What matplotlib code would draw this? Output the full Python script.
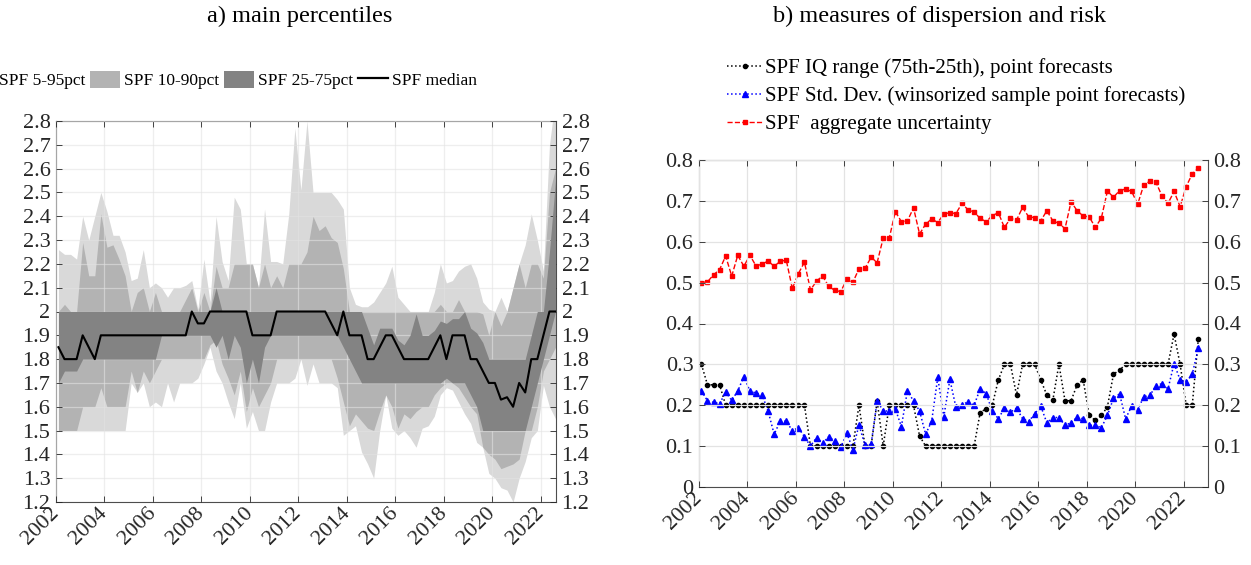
import numpy as np
import matplotlib
matplotlib.use("Agg")
import matplotlib.pyplot as plt
from matplotlib.patches import Patch
from matplotlib.lines import Line2D

plt.rcParams['font.family'] = ['Liberation Serif', 'DejaVu Serif']

# ---------------- data ----------------
quarter_index = np.arange(83)
first_quarter = 2002.1

# panel a: SPF percentiles
p95 = [2.26, 2.24, 2.24, 2.22, 2.40, 2.30, 2.40, 2.50, 2.42, 2.32,
       2.32, 2.25, 2.13, 2.14, 2.26, 2.10, 2.12, 2.10, 2.06, 2.10,
       2.10, 2.11, 2.13, 2.01, 2.22, 2.04, 2.40, 2.21, 2.13, 2.48,
       2.43, 2.20, 2.20, 2.10, 2.43, 2.21, 2.21, 2.20, 2.41, 2.77,
       2.51, 2.80, 2.50, 2.50, 2.50, 2.50, 2.47, 2.43, 2.10, 2.03,
       2.02, 2.02, 2.04, 2.08, 2.12, 2.19, 2.06, 2.03, 2.00, 2.00,
       2.00, 2.00, 2.08, 2.20, 2.12, 2.13, 2.17, 2.19, 2.20, 2.14,
       2.04, 2.01, 2.00, 2.06, 2.00, 2.10, 2.20, 2.28, 2.41, 2.30,
       2.17, 2.70, 2.90]
p90 = [2.00, 2.03, 2.00, 2.00, 2.29, 2.15, 2.15, 2.41, 2.27, 2.28,
       2.22, 2.15, 2.00, 2.08, 2.10, 2.00, 2.08, 2.00, 2.00, 2.00,
       2.00, 2.05, 2.10, 2.00, 2.08, 2.00, 2.19, 2.10, 2.10, 2.20,
       2.20, 2.20, 2.20, 2.10, 2.20, 2.10, 2.15, 2.10, 2.20, 2.20,
       2.20, 2.25, 2.40, 2.34, 2.36, 2.31, 2.29, 2.18, 2.00, 2.00,
       2.00, 2.00, 2.00, 2.00, 2.00, 2.00, 2.00, 2.00, 2.00, 2.00,
       2.00, 2.00, 2.00, 2.03, 2.00, 2.00, 2.05, 2.00, 2.00, 2.00,
       1.99, 1.90, 2.00, 1.94, 2.00, 2.10, 2.20, 2.10, 2.20, 2.20,
       2.14, 2.50, 2.60]
p75 = [2.00, 2.00, 2.00, 2.00, 2.00, 2.00, 2.00, 2.00, 2.00, 2.00,
       2.00, 2.00, 2.00, 2.00, 2.00, 2.00, 2.00, 2.00, 2.00, 2.00,
       2.00, 2.00, 2.00, 2.00, 2.00, 2.00, 2.10, 2.00, 2.00, 2.00,
       2.00, 2.00, 2.00, 2.00, 2.00, 2.00, 2.00, 2.00, 2.00, 2.00,
       2.00, 2.00, 2.00, 2.00, 2.00, 2.00, 2.00, 2.00, 2.00, 2.00,
       2.00, 1.93, 1.86, 1.93, 1.93, 1.93, 1.88, 1.86, 1.90, 1.99,
       1.90, 1.90, 1.92, 1.96, 1.95, 1.97, 1.97, 2.00, 1.93, 1.91,
       1.87, 1.80, 1.80, 1.80, 1.80, 1.80, 1.80, 1.80, 1.90, 2.00,
       2.00, 2.25, 2.55]
median = [1.85, 1.80, 1.80, 1.80, 1.90, 1.85, 1.80, 1.90, 1.90, 1.90,
          1.90, 1.90, 1.90, 1.90, 1.90, 1.90, 1.90, 1.90, 1.90, 1.90,
          1.90, 1.90, 2.00, 1.95, 1.95, 2.00, 2.00, 2.00, 2.00, 2.00,
          2.00, 2.00, 1.90, 1.90, 1.90, 1.90, 2.00, 2.00, 2.00, 2.00,
          2.00, 2.00, 2.00, 2.00, 2.00, 1.95, 1.90, 2.00, 1.90, 1.90,
          1.90, 1.80, 1.80, 1.85, 1.90, 1.90, 1.85, 1.80, 1.80, 1.80,
          1.80, 1.80, 1.85, 1.90, 1.80, 1.90, 1.90, 1.90, 1.80, 1.80,
          1.75, 1.70, 1.70, 1.63, 1.64, 1.60, 1.70, 1.66, 1.80, 1.80,
          1.90, 2.00, 2.00]
p25 = [1.70, 1.75, 1.75, 1.75, 1.80, 1.80, 1.80, 1.80, 1.80, 1.80,
       1.80, 1.80, 1.80, 1.80, 1.80, 1.80, 1.80, 1.90, 1.90, 1.90,
       1.90, 1.90, 1.90, 1.90, 1.90, 1.90, 1.85, 1.90, 1.80, 1.90,
       1.85, 1.70, 1.80, 1.70, 1.85, 1.90, 1.90, 1.90, 1.90, 1.90,
       1.90, 1.90, 1.90, 1.90, 1.90, 1.90, 1.90, 1.85, 1.80, 1.75,
       1.70, 1.70, 1.70, 1.70, 1.70, 1.70, 1.70, 1.70, 1.70, 1.70,
       1.70, 1.70, 1.70, 1.70, 1.72, 1.70, 1.70, 1.70, 1.65, 1.60,
       1.50, 1.50, 1.50, 1.50, 1.50, 1.50, 1.50, 1.50, 1.60, 1.70,
       1.80, 1.90, 2.00]
p10 = [1.50, 1.50, 1.50, 1.50, 1.60, 1.60, 1.60, 1.68, 1.60, 1.60,
       1.60, 1.60, 1.75, 1.66, 1.75, 1.70, 1.75, 1.80, 1.80, 1.80,
       1.80, 1.80, 1.80, 1.80, 1.80, 1.86, 1.88, 1.78, 1.72, 1.65,
       1.75, 1.58, 1.68, 1.60, 1.65, 1.70, 1.80, 1.80, 1.80, 1.80,
       1.80, 1.80, 1.80, 1.80, 1.80, 1.80, 1.72, 1.62, 1.52, 1.57,
       1.54, 1.51, 1.50, 1.58, 1.65, 1.60, 1.51, 1.57, 1.55, 1.58,
       1.60, 1.60, 1.65, 1.68, 1.70, 1.70, 1.68, 1.64, 1.60, 1.57,
       1.43, 1.40, 1.38, 1.34, 1.35, 1.36, 1.38, 1.50, 1.50, 1.60,
       1.75, 1.80, 1.85]
p5 = [1.50, 1.50, 1.50, 1.50, 1.50, 1.50, 1.50, 1.50, 1.50, 1.50,
      1.50, 1.50, 1.70, 1.66, 1.70, 1.60, 1.62, 1.60, 1.70, 1.62,
      1.70, 1.70, 1.70, 1.72, 1.78, 1.85, 1.75, 1.70, 1.62, 1.55,
      1.70, 1.51, 1.58, 1.50, 1.50, 1.62, 1.70, 1.70, 1.70, 1.72,
      1.80, 1.69, 1.78, 1.70, 1.70, 1.70, 1.68, 1.48, 1.50, 1.52,
      1.41, 1.36, 1.30, 1.50, 1.65, 1.51, 1.48, 1.50, 1.47, 1.43,
      1.51, 1.52, 1.56, 1.65, 1.68, 1.67, 1.62, 1.57, 1.53, 1.45,
      1.43, 1.32, 1.30, 1.26, 1.25, 1.20, 1.30, 1.37, 1.47, 1.50,
      1.69, 1.60, 1.55]

# panel b: dispersion and risk
iq_range = [0.30, 0.25, 0.25, 0.25, 0.20, 0.20, 0.20, 0.20, 0.20, 0.20,
            0.20, 0.20, 0.20, 0.20, 0.20, 0.20, 0.20, 0.20, 0.10, 0.10,
            0.10, 0.10, 0.10, 0.10, 0.10, 0.10, 0.20, 0.10, 0.10, 0.21,
            0.10, 0.20, 0.20, 0.20, 0.20, 0.20, 0.125, 0.10, 0.10, 0.10,
            0.10, 0.10, 0.10, 0.10, 0.10, 0.10, 0.182, 0.192, 0.20, 0.262,
            0.30, 0.30, 0.225, 0.30, 0.30, 0.30, 0.262, 0.225, 0.213, 0.30,
            0.211, 0.211, 0.25, 0.262, 0.175, 0.163, 0.175, 0.196, 0.276, 0.286,
            0.30, 0.30, 0.30, 0.30, 0.30, 0.30, 0.30, 0.30, 0.374, 0.30,
            0.20, 0.20, 0.362]
std_dev = [0.235, 0.211, 0.207, 0.204, 0.232, 0.212, 0.235, 0.270, 0.235, 0.230,
           0.226, 0.186, 0.129, 0.161, 0.161, 0.138, 0.145, 0.123, 0.100, 0.121,
           0.107, 0.123, 0.112, 0.097, 0.132, 0.091, 0.152, 0.102, 0.104, 0.211,
           0.186, 0.186, 0.191, 0.148, 0.236, 0.210, 0.186, 0.129, 0.161, 0.268,
           0.172, 0.263, 0.195, 0.200, 0.209, 0.200, 0.240, 0.228, 0.186, 0.167,
           0.193, 0.183, 0.193, 0.167, 0.160, 0.179, 0.198, 0.157, 0.170, 0.170,
           0.151, 0.157, 0.171, 0.167, 0.151, 0.151, 0.145, 0.175, 0.217, 0.228,
           0.167, 0.198, 0.189, 0.221, 0.224, 0.247, 0.253, 0.240, 0.302, 0.262,
           0.257, 0.276, 0.340]
agg_unc = [0.500, 0.502, 0.519, 0.532, 0.565, 0.516, 0.567, 0.540, 0.567, 0.541,
           0.545, 0.553, 0.540, 0.552, 0.555, 0.486, 0.522, 0.550, 0.482, 0.504,
           0.516, 0.491, 0.481, 0.478, 0.509, 0.501, 0.534, 0.535, 0.562, 0.549,
           0.609, 0.609, 0.674, 0.649, 0.651, 0.683, 0.619, 0.643, 0.656, 0.647,
           0.668, 0.671, 0.669, 0.694, 0.678, 0.673, 0.657, 0.649, 0.664, 0.671,
           0.635, 0.657, 0.653, 0.684, 0.661, 0.659, 0.651, 0.676, 0.651, 0.645,
           0.632, 0.698, 0.676, 0.663, 0.661, 0.635, 0.658, 0.724, 0.709, 0.725,
           0.729, 0.723, 0.692, 0.739, 0.748, 0.746, 0.712, 0.694, 0.723, 0.686,
           0.735, 0.766, 0.780]

year_ticks = list(range(2002, 2023, 2))
ticks_a = [1.2, 1.3, 1.4, 1.5, 1.6, 1.7, 1.8, 1.9, 2.0, 2.1, 2.2, 2.3, 2.4,
           2.5, 2.6, 2.7, 2.8]
ticks_b = [0, 0.1, 0.2, 0.3, 0.4, 0.5, 0.6, 0.7, 0.8]

dates = first_quarter + quarter_index / 4.0

# ---------------- styling ----------------
light_c = '#d9d9d9'
mid_c = '#b3b3b3'
dark_c = '#838383'
grid_c = '#e3e3e3'
spine_c = '#4d4d4d'
tick_fs = 16
W, H = 1251, 565

fig = plt.figure(figsize=(W / 100, H / 100), dpi=100)


def frac_box(x0, y0, x1, y1):
    return [x0 / W, 1 - y1 / H, (x1 - x0) / W, (y1 - y0) / H]


def style_axes(ax, yt, ylabels):
    ax.set_yticks(yt)
    ax.set_yticklabels(ylabels)
    ax.set_xticks(year_ticks)
    ax.set_xticklabels([str(y) for y in year_ticks], rotation=45,
                       ha='right', va='center', rotation_mode='anchor')
    ax.tick_params(axis='both', direction='in', length=4, width=0.6,
                   colors='#262626', labelsize=tick_fs,
                   left=True, right=True, top=True, bottom=True,
                   labelleft=True, labelright=True)
    ax.tick_params(axis='x', pad=6)
    ax.tick_params(axis='y', pad=4)
    ax.grid(True, color=grid_c, linewidth=0.9)
    ax.set_axisbelow(False)
    for s in ax.spines.values():
        s.set_color(spine_c)
        s.set_linewidth(0.8)


# ---------------- panel a ----------------
axa = fig.add_axes(frac_box(56, 121, 556, 502))
axa.fill_between(dates, p5, p95, color=light_c, linewidth=0, zorder=1)
axa.fill_between(dates, p10, p90, color=mid_c, linewidth=0, zorder=2)
axa.fill_between(dates, p25, p75, color=dark_c, linewidth=0, zorder=3)
axa.plot(dates, median, color='black', linewidth=1.5, zorder=5)
axa.set_xlim(2002, 2022.62)
axa.set_ylim(1.2, 2.8)
style_axes(axa, ticks_a, [f'{t:g}' for t in ticks_a])
for gl in axa.get_xgridlines() + axa.get_ygridlines():
    gl.set_zorder(4)
    gl.set_alpha(0.6)

handles_a = [Patch(facecolor=light_c, edgecolor='none'),
             Patch(facecolor=mid_c, edgecolor='none'),
             Patch(facecolor=dark_c, edgecolor='none'),
             Line2D([0], [0], color='black', linewidth=1.6)]
labels_a = ['SPF 5-95pct', 'SPF 10-90pct', 'SPF 25-75pct', 'SPF median']
fig.legend(handles_a, labels_a, loc='center left',
           bbox_to_anchor=(-35 / W, 1 - 80 / H), ncol=4, frameon=False,
           fontsize=12.5, handlelength=1.72, handleheight=1.2,
           handletextpad=0.23, columnspacing=0.29, borderpad=0,
           borderaxespad=0)

fig.text(300 / W, 1 - 16 / H, 'a) main percentiles', ha='center',
         va='center', fontsize=17.5)

# ---------------- panel b ----------------
axb = fig.add_axes(frac_box(699, 160, 1208, 487))
axb.plot(dates, iq_range, color='black', linestyle=':', linewidth=1.1,
         marker='o', markersize=3, label='SPF IQ range (75th-25th), point forecasts')
axb.plot(dates, std_dev, color='blue', linestyle=':', linewidth=1.1,
         marker='^', markersize=4,
         label='SPF Std. Dev. (winsorized sample point forecasts)')
axb.plot(dates, agg_unc, color='red', linestyle='--', linewidth=1.0,
         marker='s', markersize=3.5, label='SPF  aggregate uncertainty')
axb.set_xlim(2002, 2023)
axb.set_ylim(0, 0.8)
style_axes(axb, ticks_b, [f'{t:g}' for t in ticks_b])
for gl in axb.get_xgridlines() + axb.get_ygridlines():
    gl.set_zorder(0)

hb, lb = axb.get_legend_handles_labels()
fig.legend(hb, lb, loc='upper left', bbox_to_anchor=(727 / W, 1 - 58 / H),
           frameon=False, fontsize=15, handlelength=1.73,
           handletextpad=0.1, labelspacing=0.40, borderpad=0,
           borderaxespad=0)

fig.text(940 / W, 1 - 16 / H, 'b) measures of dispersion and risk',
         ha='center', va='center', fontsize=17.5)

fig.savefig('out.png', dpi=100)
